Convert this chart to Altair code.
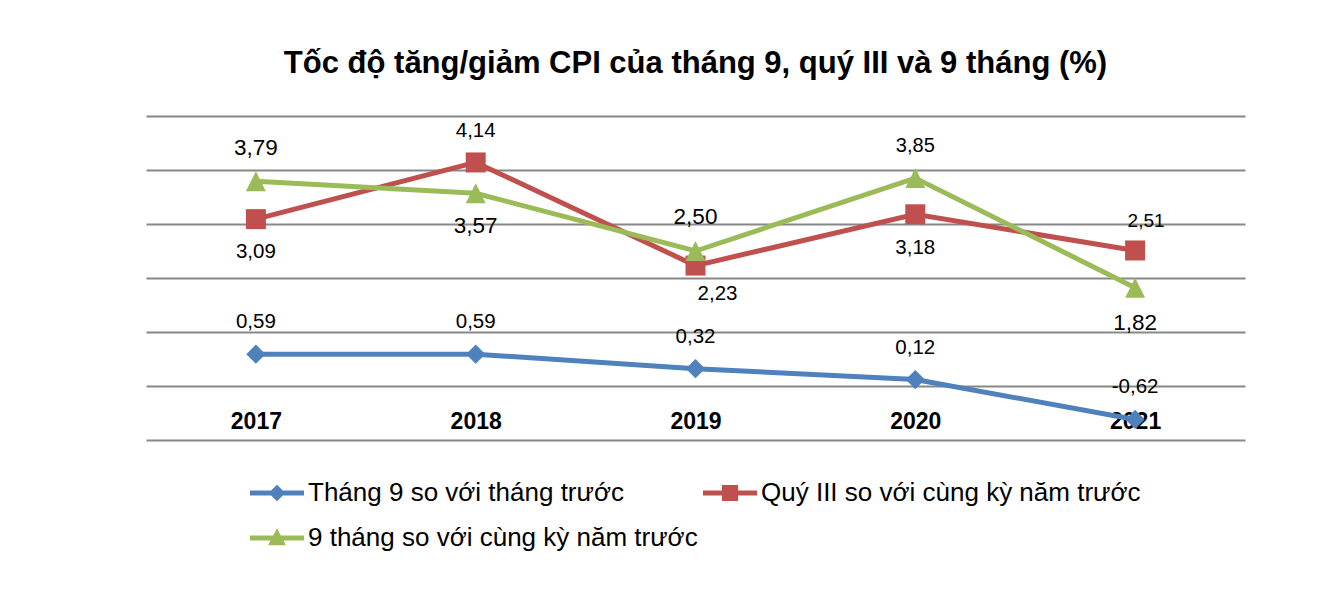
import altair as alt
import pandas as pd

# ---------------- data ----------------
years = ["2017", "2018", "2019", "2020", "2021"]
series_names = [
    "Tháng 9 so với tháng trước",
    "Quý III so với cùng kỳ năm trước",
    "9 tháng so với cùng kỳ năm trước",
]
thang9_vs_prev_month = [0.59, 0.59, 0.32, 0.12, -0.62]
quy3_vs_prev_year = [3.09, 4.14, 2.23, 3.18, 2.51]
chin_thang_vs_prev_year = [3.79, 3.57, 2.50, 3.85, 1.82]
series_values = [thang9_vs_prev_month, quy3_vs_prev_year, chin_thang_vs_prev_year]

title_text = "Tốc độ tăng/giảm CPI của tháng 9, quý III và 9 tháng (%)"

rows = []
for name, vals in zip(series_names, series_values):
    for yr, v in zip(years, vals):
        rows.append({"year": yr, "series": name, "value": v})
df = pd.DataFrame(rows)

# ---------------- styling ----------------
colors = ["#4F81BD", "#C0504D", "#9BBB59"]
marker_shapes = ["diamond", "square", "M0,-1L1,1L-1,1Z"]
marker_sizes = [370, 400, 400]
FONT = "Liberation Sans"

# data-label placement (dx, dy, fontSize) per series / year
label_layout = {
    0: [(0, -32, 20.5), (0, -32, 20.5), (0, -32, 20.5), (0, -32, 20.5), (0, -32, 20.5)],
    1: [(0, 33, 20.5), (0, -31, 20.5), (22, 28, 20.5), (0, 34, 20.5), (11, -29, 19)],
    2: [(0, -33, 22.5), (0, 33, 22.5), (0, -34, 22.5), (0, -32, 20), (0, 35, 22.5)],
}

legend_line = "M-1,-0.096H1V0.096H-1Z "
legend_paths = [
    legend_line + "M0,-0.31L0.31,0L0,0.31L-0.31,0Z",
    legend_line + "M-0.3,-0.3H0.3V0.3H-0.3Z",
    legend_line + "M0,-0.36L0.33,0.27L-0.33,0.27Z",
]

x_enc = alt.X(
    "year:N",
    sort=years,
    scale=alt.Scale(type="point", padding=0.5, domain=years),
    axis=alt.Axis(
        title=None, labelAngle=0, domain=False, ticks=False, tickSize=0, grid=False,
        labelFont=FONT, labelFontWeight="bold", labelFontSize=23, labelColor="#000000",
        labelBaseline="alphabetic", labelPadding=-12,
    ),
)
y_enc = alt.Y(
    "value:Q",
    scale=alt.Scale(domain=[-1, 5], nice=False, zero=False),
    axis=alt.Axis(
        values=[-1, 0, 1, 2, 3, 4, 5], labels=False, ticks=False, domain=False,
        grid=True, gridColor="#888888", gridWidth=2, title=None,
    ),
)

layers = []
for i, name in enumerate(series_names):
    base = alt.Chart(df).transform_filter(alt.datum.series == name)
    layers.append(
        base.mark_line(strokeWidth=5, color=colors[i]).encode(x=x_enc, y=y_enc)
    )
    layers.append(
        base.mark_point(
            filled=True, opacity=1, shape=marker_shapes[i], size=marker_sizes[i],
            color=colors[i], strokeWidth=0,
        ).encode(x=x_enc, y=y_enc)
    )

label_expr = "replace(replace(format(datum.value, '.2f'), '.', ','), '\u2212', '-')"
for i, name in enumerate(series_names):
    for j, yr in enumerate(years):
        dx, dy, fs = label_layout[i][j]
        layers.append(
            alt.Chart(df)
            .transform_filter((alt.datum.series == name) & (alt.datum.year == yr))
            .transform_calculate(label=label_expr)
            .mark_text(
                dx=dx, dy=dy, fontSize=fs, font=FONT, color="#000000",
                baseline="middle", align="center",
            )
            .encode(x=x_enc, y=y_enc, text="label:N")
        )

legend_props = dict(
    title=None, orient="none", legendX=104, legendY=350, columns=2,
    direction="horizontal", columnPadding=5, rowPadding=5, padding=0,
    symbolSize=2916, symbolStrokeWidth=0, symbolOpacity=1, labelFont=FONT,
    labelFontSize=26, labelColor="#000000", labelLimit=2000, labelOffset=4,
)
legend_layer = (
    alt.Chart(df)
    .transform_filter("false")
    .mark_point(filled=True, opacity=1)
    .encode(
        x=x_enc,
        y=y_enc,
        fill=alt.Fill(
            "series:N",
            scale=alt.Scale(domain=series_names, range=colors),
            legend=alt.Legend(**legend_props),
        ),
        shape=alt.Shape(
            "series:N",
            scale=alt.Scale(domain=series_names, range=legend_paths),
            legend=alt.Legend(**legend_props),
        ),
    )
)
layers.append(legend_layer)

chart = (
    alt.layer(*layers)
    .properties(
        width=1099,
        height=324,
        autosize=alt.AutoSizeParams(type="none"),
        padding={"left": 146, "top": 116, "right": 91, "bottom": 164},
        background="#ffffff",
        title=alt.TitleParams(
            title_text, font=FONT, fontSize=31, fontWeight="bold", color="#000000",
            anchor="middle", offset=36,
        ),
    )
    .configure_view(stroke=None)
)

chart.save("out.html", embed_options={"renderer": "svg", "actions": False})
